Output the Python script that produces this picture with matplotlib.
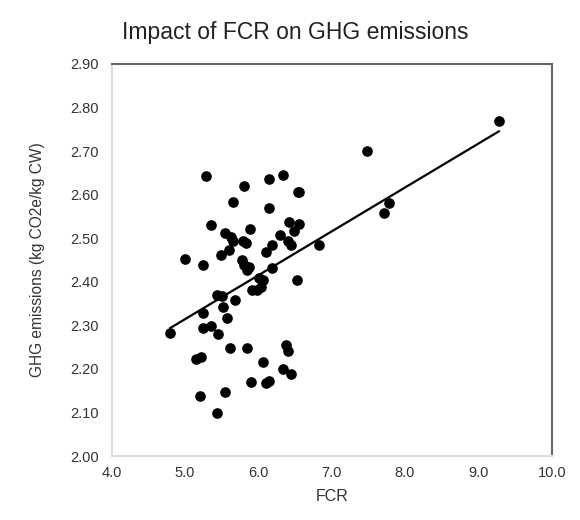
import numpy as np
import matplotlib
matplotlib.use("Agg")
import matplotlib.pyplot as plt

plt.rcParams['font.family'] = ['Liberation Sans', 'DejaVu Sans']

# FCR vs GHG emissions
fcr = [9.28, 7.48, 5.28, 6.14, 6.33, 5.80, 6.54, 6.56, 5.66, 6.15,
       7.78, 7.71, 5.35, 5.88, 6.42, 6.56, 5.54, 5.63, 5.65, 6.30,
       6.49, 5.79, 5.83, 6.41, 6.45, 5.60, 6.19, 6.10, 5.49, 6.82,
       4.995, 5.25, 5.78, 5.81, 5.87, 5.85, 6.19, 6.01, 6.06, 6.52,
       5.91, 5.98, 6.04, 5.43, 5.50, 5.68, 5.52, 5.25, 5.57, 4.80,
       5.24, 5.36, 5.45, 5.61, 5.85, 6.37, 6.40, 5.15, 5.22, 6.06,
       6.34, 6.44, 5.90, 6.10, 6.15, 5.20, 5.55, 5.43]
ghg = [2.769, 2.700, 2.642, 2.635, 2.644, 2.621, 2.605, 2.605, 2.583, 2.569,
       2.581, 2.559, 2.530, 2.521, 2.538, 2.533, 2.512, 2.503, 2.494, 2.507,
       2.517, 2.494, 2.489, 2.494, 2.484, 2.474, 2.484, 2.468, 2.462, 2.485,
       2.452, 2.439, 2.450, 2.439, 2.435, 2.426, 2.431, 2.409, 2.403, 2.405,
       2.380, 2.381, 2.387, 2.370, 2.368, 2.358, 2.341, 2.328, 2.318, 2.282,
       2.295, 2.298, 2.281, 2.249, 2.249, 2.254, 2.241, 2.222, 2.227, 2.217,
       2.199, 2.188, 2.171, 2.168, 2.172, 2.138, 2.147, 2.099]

x_ticks = [4.0, 5.0, 6.0, 7.0, 8.0, 9.0, 10.0]
y_ticks = [2.00, 2.10, 2.20, 2.30, 2.40, 2.50, 2.60, 2.70, 2.80, 2.90]

fig = plt.figure(figsize=(5.8, 5.2), dpi=100)
ax = fig.add_axes([0.1926, 0.123, 0.7586, 0.754])

ax.scatter(fcr, ghg, s=44, color="black", zorder=3)

# linear trendline over the data range
k, b = np.polyfit(fcr, ghg, 1)
xs = np.array([min(fcr), max(fcr)])
ax.plot(xs, k * xs + b, color="black", lw=1.6, zorder=2)

ax.set_xlim(4.0, 10.0)
ax.set_ylim(2.0, 2.9)
ax.set_xticks(x_ticks)
ax.set_xticklabels(["%.1f" % v for v in x_ticks])
ax.set_yticks(y_ticks)
ax.set_yticklabels(["%.2f" % v for v in y_ticks])
ax.tick_params(axis="y", length=0, labelsize=10.5, colors="#333333", pad=9)
ax.tick_params(axis="x", length=0, labelsize=10.5, colors="#333333", pad=7)

for side in ["left", "bottom"]:
    ax.spines[side].set_color("#dddddd")
    ax.spines[side].set_linewidth(1.5)
for side in ["top", "right"]:
    ax.spines[side].set_color("#666666")
    ax.spines[side].set_linewidth(1.5)

ax.set_xlabel("FCR", fontsize=11.5, color="#333333")
ax.xaxis.set_label_coords(0.5, -0.085)
ax.set_ylabel("GHG emissions (kg CO2e/kg CW)", fontsize=11.2, color="#333333")
ax.yaxis.set_label_coords(-0.152, 0.5)
fig.text(0.509, 0.9375, "Impact of FCR on GHG emissions", ha="center", va="center",
         fontsize=16.5, color="#222222")

fig.savefig("out.png", dpi=100)
